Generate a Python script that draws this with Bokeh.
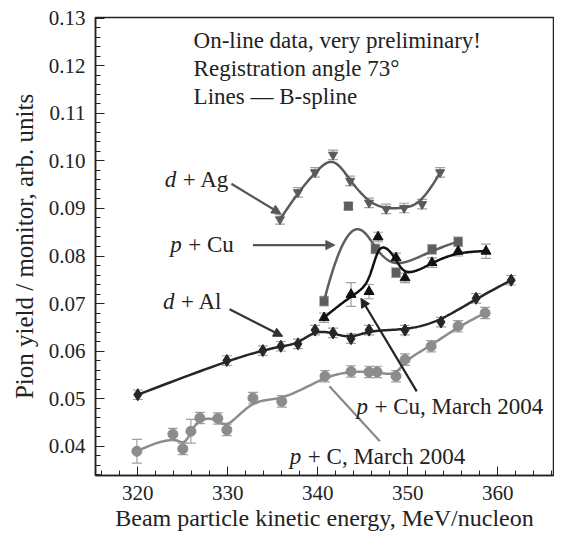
import numpy as np
from bokeh.plotting import figure
from bokeh.models import (Range1d, SingleIntervalTicker, NumeralTickFormatter, ColumnDataSource,
                          Whisker, TeeHead, Arrow, NormalHead, Label)
from bokeh.embed import file_html
from bokeh.resources import INLINE

# ---- data ----
ag_x = [335.8, 337.8, 339.7, 341.7, 343.6, 345.7, 347.6, 349.6, 351.6, 353.6]
ag_y = [0.0877, 0.0934, 0.0976, 0.1013, 0.0958, 0.0912, 0.0899, 0.0901, 0.0909, 0.0976]
ag_e = [0.0010, 0.0010, 0.0010, 0.0010, 0.0010, 0.0010, 0.0010, 0.0010, 0.0010, 0.0010]

al_x = [320.0, 329.9, 333.9, 335.9, 337.8, 339.7, 341.7, 343.7, 345.7, 349.7, 353.7, 357.6, 361.5]
al_y = [0.0508, 0.0580, 0.0601, 0.0610, 0.0615, 0.0644, 0.0638, 0.0626, 0.0644, 0.0644, 0.0661, 0.0711, 0.0749]
al_e = [0.0010, 0.0010, 0.0010, 0.0010, 0.0010, 0.0010, 0.0010, 0.0010, 0.0010, 0.0010, 0.0010, 0.0010, 0.0010]

c_x = [319.9, 323.9, 325.0, 325.9, 326.9, 328.9, 329.9, 332.8, 336.0, 340.8, 343.7, 345.7, 346.6, 348.7, 349.7, 352.6, 355.6, 358.6]
c_y = [0.0389, 0.0425, 0.0394, 0.0431, 0.0459, 0.0458, 0.0434, 0.0501, 0.0494, 0.0547, 0.0557, 0.0556, 0.0556, 0.0547, 0.0582, 0.0610, 0.0652, 0.0680]
c_e = [0.0025, 0.0012, 0.0012, 0.0025, 0.0012, 0.0012, 0.0012, 0.0012, 0.0012, 0.0012, 0.0012, 0.0012, 0.0012, 0.0012, 0.0012, 0.0012, 0.0012, 0.0012]

cu_x = [340.7, 343.4, 346.4, 348.7, 352.7, 355.6]
cu_y = [0.0705, 0.0905, 0.0815, 0.0765, 0.0814, 0.0830]
cu_e = [0.0010, 0.0008, 0.0010, 0.0010, 0.0010, 0.0010]

cum_x = [340.7, 343.7, 345.7, 346.7, 348.7, 349.7, 352.7, 355.6, 358.7]
cum_y = [0.0670, 0.0719, 0.0725, 0.0840, 0.0796, 0.0754, 0.0786, 0.0810, 0.0810]
cum_e = [0.0010, 0.0025, 0.0015, 0.0010, 0.0010, 0.0010, 0.0010, 0.0010, 0.0015]

FONT = "Liberation Serif"


def bspline(xs, ys, deg=3, n=300):
    P = np.column_stack([xs, ys]).astype(float)
    m = len(P)
    p = min(deg, m - 1)
    knots = np.concatenate([np.zeros(p), np.linspace(0, 1, m - p + 1), np.ones(p)])
    out = []
    for t in np.linspace(0, 1, n):
        if t >= 1:
            s = m - 1
        else:
            s = int(np.searchsorted(knots, t, side="right") - 1)
        d = [P[j + s - p].copy() for j in range(p + 1)]
        for r in range(1, p + 1):
            for j in range(p, r - 1, -1):
                i = j + s - p
                den = knots[j + 1 + s - r] - knots[i]
                a = 0.0 if den == 0 else (t - knots[i]) / den
                d[j] = (1 - a) * d[j - 1] + a * d[j]
        out.append(d[p])
    out = np.array(out)
    return out[:, 0], out[:, 1]


p = figure(width=554, height=540, output_backend="svg", toolbar_location=None,
           x_range=Range1d(315.3, 366.2), y_range=Range1d(0.0338, 0.1302),
           min_border_left=95, min_border_right=1, min_border_top=17, min_border_bottom=65)
p.background_fill_color = "white"
p.border_fill_color = "white"
p.outline_line_color = "#222222"
p.outline_line_width = 1.5
p.xgrid.visible = False
p.ygrid.visible = False

p.xaxis.ticker = SingleIntervalTicker(interval=10, num_minor_ticks=5)
p.yaxis.ticker = SingleIntervalTicker(interval=0.01, num_minor_ticks=5)
p.yaxis.formatter = NumeralTickFormatter(format="0.00")
for ax in (p.xaxis[0], p.yaxis[0]):
    ax.major_tick_in = 9
    ax.major_tick_out = 0
    ax.minor_tick_in = 5
    ax.minor_tick_out = 0
    ax.axis_line_color = "#222222"
    ax.axis_line_width = 1.5
    ax.major_tick_line_color = "#222222"
    ax.minor_tick_line_color = "#222222"
    ax.major_label_text_font = FONT
    ax.major_label_text_font_size = "21px"
    ax.major_label_text_color = "#222222"
    ax.axis_label_text_font = FONT
    ax.axis_label_text_font_style = "normal"
    ax.axis_label_text_color = "#222222"
    ax.major_label_standoff = 10
p.xaxis.axis_label_text_font_size = "24px"
p.yaxis.axis_label_text_font_size = "25px"
p.xaxis.axis_label = "Beam particle kinetic energy, MeV/nucleon"
p.yaxis.axis_label = "Pion yield / monitor, arb. units"
p.xaxis.axis_label_standoff = 2
p.yaxis.axis_label_standoff = 8


def series(xs, ys, es, color, marker, size, lw=2.5):
    bx, by = bspline(xs, ys)
    p.line(bx, by, line_color=color, line_width=lw)
    src = ColumnDataSource(dict(x=xs, y=ys, lo=[y - e for y, e in zip(ys, es)],
                                hi=[y + e for y, e in zip(ys, es)]))
    w = Whisker(source=src, base="x", lower="lo", upper="hi", line_color="#a0a0a0", line_width=1.2,
                upper_head=TeeHead(size=10, line_color="#a0a0a0", line_width=1.2),
                lower_head=TeeHead(size=10, line_color="#a0a0a0", line_width=1.2))
    p.add_layout(w)
    p.scatter("x", "y", source=src, marker=marker, size=size, fill_color=color, line_color=color)


series(c_x, c_y, c_e, "#8c8c8c", "circle", 10)
series(al_x, al_y, al_e, "#262626", "diamond", 12)
series(ag_x, ag_y, ag_e, "#5a5a5a", "inverted_triangle", 9)
series(cu_x, cu_y, cu_e, "#5e5e5e", "square", 8)
series(cum_x, cum_y, cum_e, "#111111", "triangle", 10)

# ---- annotations ----
def lbl(x, y, sym, rest, size="23px"):
    p.add_layout(Label(x=x, y=y, text=sym, text_font=FONT, text_font_size=size,
                       text_font_style="italic", text_baseline="middle", text_color="#222222"))
    p.add_layout(Label(x=x, y=y, x_offset=18, text="+ " + rest, text_font=FONT, text_font_size=size,
                       text_baseline="middle", text_color="#222222"))


def arrow(x0, y0, x1, y1, color="#444444"):
    p.add_layout(Arrow(x_start=x0, y_start=y0, x_end=x1, y_end=y1, line_color=color, line_width=2.2,
                       end=NormalHead(size=9, fill_color=color, line_color=color)))


lbl(323.0, 0.0962, "d", "Ag")
arrow(330.4, 0.0952, 335.9, 0.0889, "#555555")
lbl(323.6, 0.0825, "p", "Cu")
arrow(332.8, 0.0823, 341.9, 0.0823, "#555555")
lbl(322.8, 0.0705, "d", "Al")
arrow(330.2, 0.0688, 336.1, 0.0631, "#333333")
lbl(344.3, 0.0484, "p", "Cu, March 2004")
arrow(351.0, 0.0515, 344.8, 0.0711, "#222222")
lbl(336.9, 0.0378, "p", "C, March 2004")
p.segment(x0=[346.9], y0=[0.0410], x1=[341.3], y1=[0.0526], line_color="#888888", line_width=2.2)

for txt, yy in [("On-line data, very preliminary!", 0.1254), ("Registration angle 73°", 0.1195),
                ("Lines — B-spline", 0.1136)]:
    p.add_layout(Label(x=326.2, y=yy, text=txt, text_font=FONT, text_font_size="23px",
                       text_baseline="middle", text_color="#222222"))

open("out.html", "w").write(file_html(p, INLINE))
